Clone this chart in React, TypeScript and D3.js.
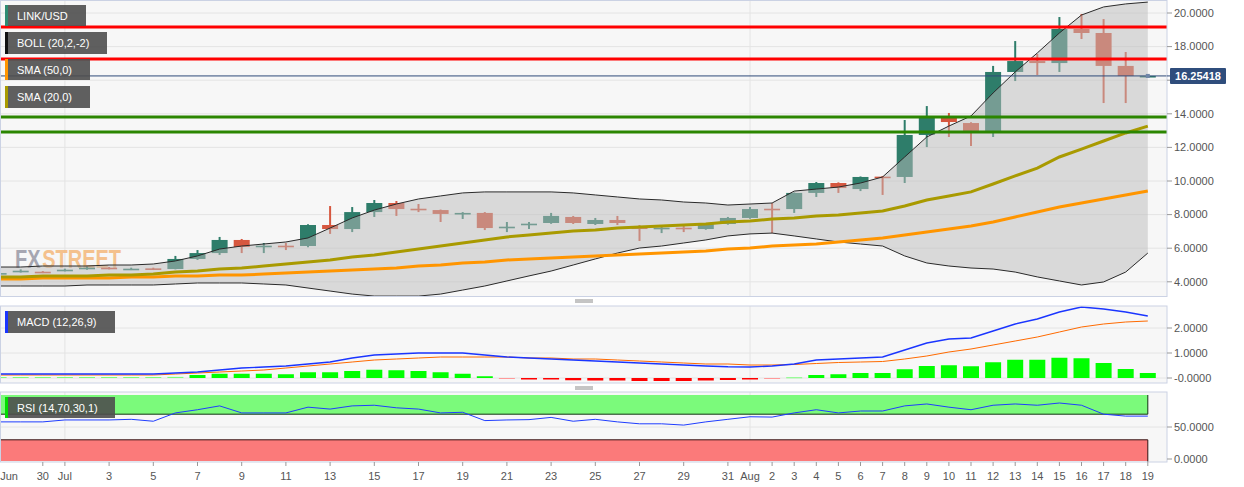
import React from "react";
import * as d3 from "d3";

// ---------- DATA ----------
const firstDay = new Date(Date.UTC(2020, 5, 28));
const lastDay = new Date(Date.UTC(2020, 7, 19));
const dates: Date[] = d3.utcDay.range(firstDay, d3.utcDay.offset(lastDay, 1));

const open = [
  4.45, 4.62, 4.6,
  4.68, 4.8, 4.84, 4.74, 4.8, 4.76, 5.36, 5.71, 6.49, 6.1,
  6.15, 6.13, 7.38, 7.14, 8.15, 8.69, 8.35, 8.27, 8.05, 8.1,
  7.22, 7.4, 7.5, 7.86, 7.44, 7.68, 7.32, 7.17, 7.22, 7.14, 7.44,
  7.8, 8.35, 8.33, 9.29, 9.88, 9.52, 10.26, 10.24, 12.74, 13.75,
  13.45, 12.98, 16.49, 17.14, 17.02, 19.05, 18.81, 16.85, 16.25,
];
const high = [
  4.55, 4.74, 4.64,
  4.78, 4.9, 4.88, 4.84, 4.84, 5.54, 5.89, 6.67, 6.55, 6.31,
  6.31, 7.42, 8.51, 8.45, 8.87, 8.81, 8.63, 8.3, 8.15, 8.15,
  7.56, 7.56, 8.1, 7.92, 7.8, 7.92, 7.38, 7.38, 7.44, 7.46, 7.86,
  8.45, 8.69, 9.32, 9.94, 9.92, 10.27, 10.3, 13.63, 14.46, 14.05,
  13.5, 16.85, 18.33, 17.56, 19.76, 19.94, 19.64, 17.68, 16.26,
];
const low = [
  4.42, 4.55, 4.52,
  4.62, 4.72, 4.74, 4.7, 4.7, 4.74, 5.3, 5.6, 5.71, 5.71,
  5.89, 6.05, 6.85, 6.96, 7.86, 7.92, 8.15, 7.56, 7.74, 7.08,
  6.96, 7.14, 7.45, 7.44, 7.38, 7.38, 6.43, 6.9, 6.96, 7.1, 7.4,
  7.76, 6.9, 8.1, 9.05, 9.29, 9.4, 9.17, 9.88, 12.02, 12.62,
  12.08, 12.62, 15.95, 16.31, 16.49, 18.45, 14.64, 14.64, 16.25,
];
const close = [
  4.52, 4.66, 4.56,
  4.72, 4.84, 4.8, 4.78, 4.76, 5.36, 5.71, 6.49, 6.07, 6.15,
  6.1, 7.38, 7.14, 8.15, 8.69, 8.33, 8.3, 8.04, 8.1, 7.2,
  7.28, 7.46, 7.92, 7.5, 7.68, 7.5, 7.14, 7.22, 7.17, 7.44, 7.8,
  8.33, 8.3, 9.29, 9.88, 9.58, 10.24, 10.22, 12.74, 13.75, 13.51,
  12.98, 16.49, 17.14, 17.02, 19.05, 18.81, 16.85, 16.25, 16.254,
];
const bbUpper = [
  4.88, 4.88, 4.94,
  4.94, 4.94, 5.0, 5.0, 5.06, 5.24, 5.54, 5.95, 6.13, 6.25,
  6.37, 6.61, 7.2, 7.8, 8.27, 8.63, 8.93, 9.11, 9.29, 9.35,
  9.35, 9.35, 9.35, 9.29, 9.17, 9.05, 8.93, 8.87, 8.75, 8.69, 8.57,
  8.63, 8.69, 9.4, 9.52, 9.64, 9.88, 10.24, 11.43, 12.62, 13.27,
  13.87, 15.24, 16.49, 17.62, 18.81, 19.88, 20.36, 20.54, 20.65,
];
const bbLower = [
  3.75, 3.75, 3.75,
  3.75, 3.81, 3.81, 3.81, 3.81, 3.87, 3.93, 3.93, 3.93, 3.87,
  3.81, 3.63, 3.45, 3.27, 3.15, 3.15, 3.15, 3.27, 3.51, 3.75,
  4.05, 4.35, 4.64, 5.0, 5.36, 5.71, 6.01, 6.13, 6.31, 6.49, 6.73,
  6.85, 6.9, 6.73, 6.55, 6.37, 6.25, 6.13, 5.54, 5.12, 4.94,
  4.82, 4.76, 4.58, 4.29, 4.05, 3.81, 3.99, 4.58, 5.71,
];
const sma20 = [
  4.29, 4.29, 4.35,
  4.35, 4.35, 4.4, 4.4, 4.46, 4.58, 4.64, 4.76, 4.82, 4.94,
  5.06, 5.18, 5.3, 5.48, 5.6, 5.77, 5.95, 6.13, 6.31, 6.49,
  6.67, 6.79, 6.9, 7.02, 7.08, 7.2, 7.26, 7.32, 7.38, 7.44, 7.56,
  7.62, 7.74, 7.8, 7.92, 7.98, 8.1, 8.21, 8.51, 8.87, 9.11,
  9.35, 9.82, 10.3, 10.77, 11.43, 11.9, 12.38, 12.86, 13.27,
];
const sma50 = [
  4.17, 4.17, 4.23,
  4.23, 4.23, 4.23, 4.29, 4.29, 4.35, 4.35, 4.4, 4.4, 4.46,
  4.52, 4.58, 4.64, 4.7, 4.76, 4.82, 4.94, 5.0, 5.12, 5.18,
  5.3, 5.36, 5.42, 5.48, 5.54, 5.6, 5.65, 5.71, 5.77, 5.83, 5.95,
  6.01, 6.13, 6.19, 6.25, 6.37, 6.49, 6.61, 6.79, 6.96, 7.14,
  7.32, 7.56, 7.86, 8.15, 8.45, 8.69, 8.93, 9.17, 9.4,
];
const macdLine = [
  0.16, 0.16, 0.16,
  0.16, 0.16, 0.16, 0.16, 0.16, 0.2, 0.24, 0.32, 0.4, 0.44,
  0.48, 0.56, 0.64, 0.8, 0.92, 0.96, 1.0, 1.0, 1.0, 0.92,
  0.84, 0.8, 0.76, 0.72, 0.68, 0.64, 0.6, 0.56, 0.52, 0.48, 0.45,
  0.44, 0.48, 0.56, 0.72, 0.76, 0.8, 0.84, 1.12, 1.4, 1.56,
  1.6, 1.88, 2.16, 2.36, 2.64, 2.84, 2.76, 2.64, 2.48,
];
const signalLine = [
  0.12, 0.12, 0.12,
  0.12, 0.12, 0.12, 0.12, 0.12, 0.16, 0.2, 0.24, 0.28, 0.32,
  0.4, 0.48, 0.56, 0.64, 0.72, 0.76, 0.8, 0.84, 0.84, 0.84,
  0.84, 0.8, 0.8, 0.76, 0.76, 0.72, 0.68, 0.64, 0.6, 0.56, 0.56,
  0.52, 0.52, 0.54, 0.58, 0.62, 0.64, 0.66, 0.76, 0.88, 1.04,
  1.16, 1.32, 1.48, 1.64, 1.84, 2.04, 2.16, 2.24, 2.28,
];
const macdHist = [
  0.04, 0.04, 0.04,
  0.04, 0.04, 0.04, 0.04, 0.04, 0.045, 0.12, 0.17, 0.17, 0.17,
  0.15, 0.23, 0.23, 0.28, 0.33, 0.31, 0.28, 0.23, 0.17, 0.07,
  -0.03, -0.06, -0.06, -0.09, -0.1, -0.1, -0.12, -0.12, -0.12, -0.1, -0.08,
  -0.06, -0.03, 0.03, 0.12, 0.15, 0.2, 0.2, 0.35, 0.48, 0.51,
  0.47, 0.63, 0.73, 0.73, 0.81, 0.79, 0.6, 0.36, 0.2,
];
const rsi = [
  58, 58, 58,
  61, 61, 61, 62, 59, 72, 77, 83, 72, 72,
  72, 81, 78, 83, 84, 80, 78, 72, 73, 60,
  61, 61.5, 65, 59, 62, 58, 55, 55, 53, 58, 62,
  66, 65.5, 72, 77, 72, 75, 75, 83, 86, 81,
  77, 84, 86, 84, 87.5, 84, 70, 67, 67,
];

const priceTicks = [4, 6, 8, 10, 12, 14, 16, 18, 20];
const macdTicks = [0, 1, 2];
const macdTickLabels = ["-0.0000", "1.0000", "2.0000"];
const rsiTicks = [0, 50];
const resistanceLevels = [19.17, 17.26];
const supportLevels = [13.81, 12.92];
const lastPrice = 16.25418;

const xTickDates = [
  "2020-06-28", "2020-06-30", "2020-07-01", "2020-07-03", "2020-07-05", "2020-07-07",
  "2020-07-09", "2020-07-11", "2020-07-13", "2020-07-15", "2020-07-17", "2020-07-19",
  "2020-07-21", "2020-07-23", "2020-07-25", "2020-07-27", "2020-07-29", "2020-07-31",
  "2020-08-01", "2020-08-02", "2020-08-03", "2020-08-04", "2020-08-05", "2020-08-06",
  "2020-08-07", "2020-08-08", "2020-08-09", "2020-08-10", "2020-08-11", "2020-08-12",
  "2020-08-13", "2020-08-14", "2020-08-15", "2020-08-16", "2020-08-17", "2020-08-18",
  "2020-08-19",
];
const xTickLabels = [
  "Jun", "30", "Jul", "3", "5", "7", "9", "11", "13", "15", "17", "19", "21", "23", "25",
  "27", "29", "31", "Aug", "2", "3", "4", "5", "6", "7", "8", "9", "10", "11", "12", "13",
  "14", "15", "16", "17", "18", "19",
];
const monthStarts = ["2020-07-01", "2020-08-01"];

// ---------- LAYOUT ----------
const W = 1244;
const H = 487;
const PL = 0;
const PR = 1167;
const MAIN = { top: 1, bottom: 297 };
const MP = { top: 306, bottom: 383 };
const RP = { top: 392, bottom: 462 };
const FONT = "'Liberation Sans', Arial, Helvetica, sans-serif";
const UP = "#2e7d6a";
const DOWN = "#d6573f";
const BORDER = "#cbd2e4";
const GRID = "#e4e4e4";

const pd = (s: string) => new Date(s + "T00:00:00Z");

export default function App() {
  const x = d3
    .scaleUtc()
    .domain([new Date(Date.UTC(2020, 5, 30)), lastDay])
    .range([42.8, 1147.8]);
  const y = d3.scaleLinear().domain([4, 20]).range([281.8, 13]);
  const yM = d3.scaleLinear().domain([0, 2]).range([378, 328]);
  const yR = d3.scaleLinear().domain([0, 100]).range([459, 395]);

  const xi = (_: number, i: number) => x(dates[i]);
  const priceLine = d3.line<number>().x(xi).y((v) => y(v));
  const bandArea = d3
    .area<number>()
    .x(xi)
    .y0((_, i) => y(bbLower[i]))
    .y1((v) => y(v));
  const macdGen = d3.line<number>().x(xi).y((v) => yM(v));
  const rsiGen = d3.line<number>().x(xi).y((v) => yR(v));

  const bodyW = 16;
  const barW = 16;

  const legend = (
    label: string,
    yy: number,
    w: number,
    h: number,
    strip: string,
    key: string
  ) => (
    <g key={key}>
      <rect x={5} y={yy} width={w} height={h} fill="#4e4e4e" opacity={0.9} />
      <rect x={5} y={yy} width={3} height={h} fill={strip} />
      <text x={17} y={yy + h / 2 + 4} fill="#fff" fontSize={11} fontFamily={FONT}>
        {label}
      </text>
    </g>
  );

  const fmt = d3.format(".4f");

  return (
    <svg
      width={W}
      height={H}
      style={{ position: "absolute", left: 0, top: 0, background: "#fff" }}
      fontFamily={FONT}
    >
      <defs>
        <clipPath id="clipMain">
          <rect x={PL} y={MAIN.top} width={PR - PL} height={MAIN.bottom - MAIN.top} />
        </clipPath>
        <clipPath id="clipMacd">
          <rect x={PL} y={MP.top} width={PR - PL} height={MP.bottom - MP.top} />
        </clipPath>
        <clipPath id="clipRsi">
          <rect x={PL} y={RP.top} width={PR - PL} height={RP.bottom - RP.top} />
        </clipPath>
      </defs>
      <rect x={0} y={0} width={W} height={H} fill="#fff" />

      {/* ===== MAIN PANEL ===== */}
      <rect x={PL} y={MAIN.top} width={PR - PL} height={MAIN.bottom - MAIN.top} fill="#f7f7f7" />
      <g clipPath="url(#clipMain)">
        {priceTicks.map((t) => (
          <line key={t} x1={PL} x2={PR} y1={y(t)} y2={y(t)} stroke={GRID} />
        ))}
        {monthStarts.map((m) => (
          <line key={m} x1={x(pd(m))} x2={x(pd(m))} y1={MAIN.top} y2={MAIN.bottom} stroke={GRID} />
        ))}
        {/* watermark */}
        <g opacity={0.75} fontWeight="bold" fontSize={25} transform="translate(15,268) scale(0.8,1)">
          <text x={0} y={0} fill="#8c8c9a">
            FX
          </text>
          <text x={34} y={0} fill="#f4b06a">
            STREET
          </text>
        </g>
        {/* candles */}
        {dates.map((d, i) => {
          const up = close[i] >= open[i];
          const c = up ? UP : DOWN;
          const cx = x(d);
          const yo = y(open[i]);
          const yc = y(close[i]);
          const top = Math.min(yo, yc);
          const h = Math.max(Math.abs(yo - yc), 1.6);
          return (
            <g key={i}>
              <line x1={cx} x2={cx} y1={y(high[i])} y2={y(low[i])} stroke={c} strokeWidth={2} />
              <rect x={cx - bodyW / 2} y={top} width={bodyW} height={h} fill={c} />
            </g>
          );
        })}
        {/* bollinger */}
        <path d={bandArea(bbUpper) || ""} fill="rgb(188,188,188)" fillOpacity={0.5} />
        <path d={priceLine(bbUpper) || ""} fill="none" stroke="#2a2a2a" strokeWidth={1} />
        <path d={priceLine(bbLower) || ""} fill="none" stroke="#2a2a2a" strokeWidth={1} />
        {/* SMAs */}
        <path d={priceLine(sma50) || ""} fill="none" stroke="#ff9500" strokeWidth={3} />
        <path d={priceLine(sma20) || ""} fill="none" stroke="#a99a00" strokeWidth={3} />
        {/* levels */}
        {resistanceLevels.map((l) => (
          <line key={"r" + l} x1={PL} x2={PR} y1={y(l)} y2={y(l)} stroke="#ff0000" strokeWidth={3} />
        ))}
        {supportLevels.map((l) => (
          <line key={"s" + l} x1={PL} x2={PR} y1={y(l)} y2={y(l)} stroke="#2b8600" strokeWidth={3} />
        ))}
        <line x1={PL} x2={PR} y1={y(lastPrice)} y2={y(lastPrice)} stroke="#2d4a78" strokeWidth={1} />
        <rect x={x(lastDay) - 2} y={y(lastPrice) - 2} width={4} height={4} fill="#6f86a8" />
      </g>
      <rect x={PL + 0.5} y={MAIN.top - 0.5} width={PR - PL - 0.5} height={MAIN.bottom - MAIN.top} fill="none" stroke={BORDER} />
      {/* main axis */}
      {priceTicks.map((t) => (
        <g key={"pt" + t}>
          <line x1={PR} x2={PR + 5} y1={y(t)} y2={y(t)} stroke="#999" />
          <text x={PR + 7} y={y(t)} dy="0.35em" fontSize={11} fill="#555">
            {fmt(t)}
          </text>
        </g>
      ))}
      <line x1={PR} x2={1171} y1={y(lastPrice)} y2={y(lastPrice)} stroke="#2d4a78" />
      <rect x={1170} y={y(lastPrice) - 8} width={56} height={16} fill="#2f4d7c" rx={1} />
      <text x={1198} y={y(lastPrice)} dy="0.35em" fontSize={11} fontWeight="bold" fill="#fff" textAnchor="middle">
        {lastPrice.toFixed(5)}
      </text>
      {legend("LINK/USD", 5, 81, 21, "#2e8b73", "l1")}
      {legend("BOLL (20,2,-2)", 32, 102, 22, "#111", "l2")}
      {legend("SMA (50,0)", 59, 85, 21, "#ff9500", "l3")}
      {legend("SMA (20,0)", 86, 85, 22, "#a99a00", "l4")}

      {/* handles */}
      {[300, 302, 387, 389].map((hy) => (
        <line key={"h" + hy} x1={575} x2={593} y1={hy} y2={hy} stroke="#8a8a8a" />
      ))}

      {/* ===== MACD PANEL ===== */}
      <rect x={PL} y={MP.top} width={PR - PL} height={MP.bottom - MP.top} fill="#f7f7f7" />
      <g clipPath="url(#clipMacd)">
        {macdTicks.map((t) => (
          <line key={t} x1={PL} x2={PR} y1={yM(t)} y2={yM(t)} stroke={GRID} />
        ))}
        {monthStarts.map((m) => (
          <line key={m} x1={x(pd(m))} x2={x(pd(m))} y1={MP.top} y2={MP.bottom} stroke={GRID} />
        ))}
        {dates.map((d, i) => {
          const v = macdHist[i];
          const faint = Math.abs(v) < 0.05;
          const col = v >= 0 ? (faint ? "#7dff7d" : "#00ff00") : faint ? "#ff9a9a" : "#ff0000";
          const y0 = yM(0);
          const y1 = yM(v);
          return (
            <rect
              key={i}
              x={x(d) - barW / 2}
              y={Math.min(y0, y1)}
              width={barW}
              height={Math.max(Math.abs(y1 - y0), 1)}
              fill={col}
            />
          );
        })}
        <path d={macdGen(signalLine) || ""} fill="none" stroke="#ff6a00" strokeWidth={1} />
        <path d={macdGen(macdLine) || ""} fill="none" stroke="#1a35ff" strokeWidth={1.4} />
      </g>
      <rect x={PL + 0.5} y={MP.top} width={PR - PL - 0.5} height={MP.bottom - MP.top} fill="none" stroke={BORDER} />
      {macdTicks.map((t, k) => (
        <g key={"mt" + t}>
          <line x1={PR} x2={PR + 5} y1={yM(t)} y2={yM(t)} stroke="#999" />
          <text x={PR + 7} y={yM(t)} dy="0.35em" fontSize={11} fill="#555">
            {macdTickLabels[k]}
          </text>
        </g>
      ))}
      {legend("MACD (12,26,9)", 311, 110, 22, "#1a35ff", "lm")}

      {/* ===== RSI PANEL ===== */}
      <rect x={PL} y={RP.top} width={PR - PL} height={RP.bottom - RP.top} fill="#f7f7f7" />
      <g clipPath="url(#clipRsi)">
        <line x1={PL} x2={PR} y1={yR(50)} y2={yR(50)} stroke={GRID} />
        {monthStarts.map((m) => (
          <line key={m} x1={x(pd(m))} x2={x(pd(m))} y1={RP.top} y2={RP.bottom} stroke={GRID} />
        ))}
        <rect x={PL} y={yR(100)} width={x(lastDay) - PL} height={yR(70) - yR(100)} fill="#7bfa7b" />
        <path
          d={`M${PL + 0.5},${yR(100)}V${yR(70)}H${x(lastDay)}V${yR(100)}`}
          fill="none"
          stroke="#123312"
          strokeWidth={1}
        />
        <rect x={PL} y={yR(30)} width={x(lastDay) - PL} height={yR(0) - yR(30) + 2} fill="#fb7a7a" />
        <path
          d={`M${PL + 0.5},${yR(0) + 3}V${yR(30)}H${x(lastDay)}V${yR(0) + 3}`}
          fill="none"
          stroke="#331212"
          strokeWidth={1}
        />
        <path d={rsiGen(rsi) || ""} fill="none" stroke="#1f3dff" strokeWidth={1} />
      </g>
      <rect x={PL + 0.5} y={RP.top} width={PR - PL - 0.5} height={RP.bottom - RP.top} fill="none" stroke={BORDER} />
      {rsiTicks.map((t) => (
        <g key={"rt" + t}>
          <line x1={PR} x2={PR + 5} y1={yR(t)} y2={yR(t)} stroke="#999" />
          <text x={PR + 7} y={yR(t)} dy="0.35em" fontSize={11} fill="#555">
            {fmt(t)}
          </text>
        </g>
      ))}
      {legend("RSI (14,70,30,1)", 397, 110, 21, "#00dd00", "lr")}

      {/* ===== X AXIS ===== */}
      {xTickDates.map((s, k) => {
        const tx = x(pd(s));
        const visible = tx > 2;
        return (
          <g key={"xt" + s}>
            {visible && <line x1={tx} x2={tx} y1={RP.bottom} y2={RP.bottom + 4} stroke="#999" />}
            <text
              x={Math.max(tx, 9)}
              y={480}
              fontSize={11}
              fill="#555"
              textAnchor="middle"
            >
              {xTickLabels[k]}
            </text>
          </g>
        );
      })}
    </svg>
  );
}
